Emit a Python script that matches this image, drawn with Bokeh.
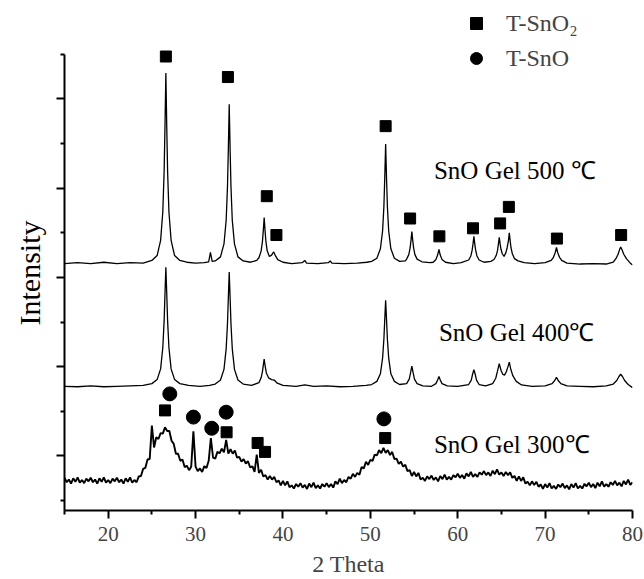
from bokeh.plotting import figure
from bokeh.models import Range1d, FixedTicker, Legend, LegendItem, ColumnDataSource, Title
from bokeh.core.properties import value
from bokeh.embed import file_html
from bokeh.resources import INLINE

FONT = "Liberation Serif"

# ---- data (2 Theta, intensity in arbitrary units, traces offset) ----
T500_X = [15.0, 16.5, 18.0, 19.5, 21.0, 22.5, 24.0, 25.0, 25.6, 26.0, 26.25, 26.4, 26.5, 26.6, 26.7, 26.8, 26.95,
          27.2, 27.6, 28.2, 29.0, 30.0, 31.0, 31.5, 31.7, 31.9, 32.25, 32.85, 33.25, 33.5, 33.65, 33.75, 33.85,
          33.95, 34.05, 34.2, 34.45, 34.85, 35.45, 36.3, 37.0, 37.25, 37.5, 37.65, 37.75, 37.85, 37.95, 38.05,
          38.2, 38.45, 38.7, 38.85, 38.95, 39.1, 39.4, 40.0, 41.0, 42.2, 42.5, 42.7, 44.0, 45.2, 45.4, 45.6,
          47.0, 48.5, 49.6, 50.15, 50.75, 51.15, 51.4, 51.55, 51.65, 51.75, 51.85, 51.95, 52.1, 52.35, 52.75,
          53.35, 54.0, 54.15, 54.4, 54.55, 54.65, 54.75, 54.85, 54.95, 55.1, 55.35, 55.9, 56.8, 57.2, 57.5,
          57.7, 57.85, 58.0, 58.2, 58.6, 59.5, 60.4, 61.25, 61.5, 61.65, 61.75, 61.85, 61.95, 62.05, 62.2,
          62.45, 63.0, 63.8, 64.15, 64.4, 64.55, 64.65, 64.75, 64.85, 64.95, 65.1, 65.3, 65.5, 65.65, 65.8,
          65.9, 66.0, 66.1, 66.25, 66.5, 66.9, 67.6, 68.8, 70.0, 70.7, 70.95, 71.15, 71.3, 71.45, 71.65, 71.9,
          72.5, 74.0, 75.5, 77.0, 77.8, 78.1, 78.35, 78.55, 78.65, 78.8, 79.0, 79.3, 79.7, 80.0]
T500_Y = [5.31, 5.33, 5.31, 5.34, 5.31, 5.33, 5.32, 5.38, 5.49, 5.83, 6.47, 7.36, 8.39, 9.58, 8.39, 7.36, 6.47,
          5.83, 5.49, 5.38, 5.34, 5.32, 5.33, 5.35, 5.56, 5.36, 5.37, 5.46, 5.75, 6.28, 7.03, 7.88, 8.88,
          7.88, 7.03, 6.28, 5.75, 5.46, 5.37, 5.34, 5.38, 5.44, 5.59, 5.80, 6.05, 6.34, 6.05, 5.80,
          5.59, 5.47, 5.50, 5.55, 5.57, 5.50, 5.40, 5.34, 5.31, 5.33, 5.38, 5.32, 5.31, 5.33, 5.37, 5.32,
          5.31, 5.32, 5.34, 5.36, 5.43, 5.64, 6.04, 6.59, 7.24, 7.99, 7.24, 6.59, 6.04, 5.64, 5.43,
          5.36, 5.37, 5.41, 5.51, 5.66, 5.83, 6.03, 5.83, 5.66, 5.51, 5.41, 5.35, 5.33, 5.34, 5.40,
          5.50, 5.63, 5.50, 5.40, 5.34, 5.31, 5.33, 5.39, 5.48, 5.61, 5.75, 5.92, 5.75, 5.61, 5.48,
          5.39, 5.34, 5.36, 5.40, 5.49, 5.60, 5.74, 5.90, 5.75, 5.63, 5.53, 5.47, 5.55, 5.66, 5.82,
          6.00, 5.82, 5.66, 5.53, 5.42, 5.37, 5.33, 5.31, 5.33, 5.38, 5.45, 5.55, 5.67, 5.55, 5.45, 5.38,
          5.32, 5.30, 5.31, 5.30, 5.34, 5.42, 5.52, 5.64, 5.68, 5.62, 5.52, 5.42, 5.33, 5.28]

T400_X = [15.0, 16.5, 18.0, 19.5, 21.0, 22.5, 24.0, 25.0, 25.6, 26.0, 26.25, 26.4, 26.5, 26.6, 26.7, 26.8, 26.95,
          27.2, 27.6, 28.2, 29.2, 30.5, 31.6, 32.25, 32.85, 33.25, 33.5, 33.65, 33.75, 33.85, 33.95, 34.05,
          34.2, 34.45, 34.85, 35.45, 36.4, 37.25, 37.5, 37.65, 37.75, 37.85, 37.95, 38.1, 38.35, 38.7, 39.0,
          39.35, 40.0, 41.5, 42.5, 43.5, 45.0, 46.5, 48.0, 49.5, 50.15, 50.75, 51.15, 51.4, 51.55, 51.65,
          51.75, 51.85, 51.95, 52.1, 52.35, 52.75, 53.35, 54.15, 54.45, 54.6, 54.75, 54.9, 55.05, 55.35,
          56.0, 57.0, 57.5, 57.7, 57.85, 58.0, 58.2, 58.8, 60.0, 61.25, 61.55, 61.7, 61.85, 62.0, 62.15,
          62.45, 63.2, 64.0, 64.35, 64.55, 64.75, 64.95, 65.15, 65.35, 65.55, 65.75, 65.9, 66.05, 66.3,
          66.7, 67.3, 68.5, 70.0, 70.8, 71.1, 71.3, 71.5, 71.8, 72.5, 74.0, 75.5, 77.0, 77.8, 78.2, 78.45,
          78.65, 78.85, 79.1, 79.5, 80.0]
T400_Y = [2.56, 2.55, 2.57, 2.55, 2.56, 2.57, 2.58, 2.62, 2.71, 2.95, 3.43, 4.02, 4.64, 5.23, 4.64, 4.02, 3.43,
          2.95, 2.71, 2.62, 2.58, 2.56, 2.58, 2.61, 2.70, 2.94, 3.40, 3.96, 4.55, 5.12, 4.55, 3.96,
          3.40, 2.94, 2.70, 2.61, 2.58, 2.64, 2.75, 2.89, 3.03, 3.17, 3.03, 2.86, 2.75, 2.71, 2.70,
          2.63, 2.58, 2.56, 2.59, 2.56, 2.57, 2.55, 2.56, 2.58, 2.60, 2.67, 2.84, 3.19, 3.62, 4.06,
          4.49, 4.06, 3.62, 3.19, 2.84, 2.67, 2.60, 2.62, 2.72, 2.86, 3.01, 2.86, 2.72, 2.62,
          2.57, 2.56, 2.62, 2.70, 2.78, 2.70, 2.62, 2.57, 2.56, 2.60, 2.70, 2.83, 2.93, 2.83, 2.70,
          2.60, 2.57, 2.62, 2.74, 2.90, 3.07, 2.92, 2.83, 2.81, 2.88, 3.00, 3.10, 2.96, 2.80,
          2.67, 2.59, 2.56, 2.57, 2.62, 2.69, 2.76, 2.69, 2.62, 2.57, 2.56, 2.55, 2.57, 2.61, 2.69, 2.78,
          2.83, 2.78, 2.69, 2.60, 2.53]

T300_X = [15.0, 15.25, 15.5, 15.75, 16.0, 16.25, 16.5, 16.75, 17.0, 17.25, 17.5, 17.75, 18.0, 18.25, 18.5, 18.75,
          19.0, 19.25, 19.5, 19.75, 20.0, 20.25, 20.5, 20.75, 21.0, 21.25, 21.5, 21.75, 22.0, 22.25, 22.5, 22.75,
          23.0, 23.25, 23.5, 23.75, 24.0, 24.25, 24.5, 24.75, 25.0, 25.25, 25.5, 25.75, 26.0, 26.25, 26.5, 26.75,
          27.0, 27.25, 27.5, 27.75, 28.0, 28.25, 28.5, 28.75, 29.0, 29.25, 29.5, 29.75, 30.0, 30.25, 30.5, 30.75,
          31.0, 31.25, 31.5, 31.75, 32.0, 32.25, 32.5, 32.75, 33.0, 33.25, 33.5, 33.75, 34.0, 34.25, 34.5, 34.75,
          35.0, 35.25, 35.5, 35.75, 36.0, 36.25, 36.5, 36.75, 37.0, 37.25, 37.5, 37.75, 38.0, 38.25, 38.5, 38.75,
          39.0, 39.25, 39.5, 39.75, 40.0, 40.25, 40.5, 40.75, 41.0, 41.25, 41.5, 41.75, 42.0, 42.25, 42.5, 42.75,
          43.0, 43.25, 43.5, 43.75, 44.0, 44.25, 44.5, 44.75, 45.0, 45.25, 45.5, 45.75, 46.0, 46.25, 46.5, 46.75,
          47.0, 47.25, 47.5, 47.75, 48.0, 48.25, 48.5, 48.75, 49.0, 49.25, 49.5, 49.75, 50.0, 50.25, 50.5, 50.75,
          51.0, 51.25, 51.5, 51.75, 52.0, 52.25, 52.5, 52.75, 53.0, 53.25, 53.5, 53.75, 54.0, 54.25, 54.5, 54.75,
          55.0, 55.25, 55.5, 55.75, 56.0, 56.25, 56.5, 56.75, 57.0, 57.25, 57.5, 57.75, 58.0, 58.25, 58.5, 58.75,
          59.0, 59.25, 59.5, 59.75, 60.0, 60.25, 60.5, 60.75, 61.0, 61.25, 61.5, 61.75, 62.0, 62.25, 62.5, 62.75,
          63.0, 63.25, 63.5, 63.75, 64.0, 64.25, 64.5, 64.75, 65.0, 65.25, 65.5, 65.75, 66.0, 66.25, 66.5, 66.75,
          67.0, 67.25, 67.5, 67.75, 68.0, 68.25, 68.5, 68.75, 69.0, 69.25, 69.5, 69.75, 70.0, 70.25, 70.5, 70.75,
          71.0, 71.25, 71.5, 71.75, 72.0, 72.25, 72.5, 72.75, 73.0, 73.25, 73.5, 73.75, 74.0, 74.25, 74.5, 74.75,
          75.0, 75.25, 75.5, 75.75, 76.0, 76.25, 76.5, 76.75, 77.0, 77.25, 77.5, 77.75, 78.0, 78.25, 78.5, 78.75,
          79.0, 79.25, 79.5, 79.75, 80.0]
T300_Y = [0.51, 0.41, 0.47, 0.38, 0.50, 0.42, 0.52, 0.40, 0.46, 0.39, 0.49, 0.43, 0.51, 0.41, 0.47, 0.38,
          0.50, 0.42, 0.52, 0.40, 0.46, 0.39, 0.49, 0.43, 0.51, 0.41, 0.47, 0.38, 0.50, 0.42, 0.52, 0.40,
          0.46, 0.41, 0.54, 0.55, 0.71, 0.73, 0.92, 0.93, 1.68, 1.19, 1.42, 1.38, 1.51, 1.50, 1.64, 1.56,
          1.56, 1.34, 1.27, 1.05, 1.05, 0.89, 0.92, 0.75, 0.78, 0.68, 0.76, 1.55, 0.76, 0.66, 0.72, 0.64,
          0.77, 0.73, 0.89, 1.40, 0.96, 0.94, 1.09, 1.06, 1.16, 1.08, 1.36, 1.05, 1.15, 1.05, 1.12, 0.96,
          0.98, 0.87, 0.93, 0.83, 0.88, 0.74, 0.77, 0.64, 1.03, 0.62, 0.69, 0.54, 0.57, 0.47, 0.55, 0.47,
          0.53, 0.41, 0.45, 0.34, 0.44, 0.34, 0.43, 0.30, 0.34, 0.27, 0.37, 0.31, 0.39, 0.29, 0.35, 0.26,
          0.38, 0.30, 0.40, 0.28, 0.34, 0.27, 0.37, 0.31, 0.39, 0.30, 0.37, 0.29, 0.43, 0.37, 0.49, 0.39,
          0.46, 0.41, 0.53, 0.49, 0.60, 0.53, 0.62, 0.58, 0.75, 0.72, 0.87, 0.80, 0.91, 0.89, 1.03, 1.01,
          1.13, 1.06, 1.18, 1.07, 1.13, 1.02, 1.09, 0.93, 0.94, 0.82, 0.87, 0.76, 0.80, 0.66, 0.68, 0.55,
          0.64, 0.54, 0.62, 0.47, 0.51, 0.44, 0.54, 0.48, 0.56, 0.46, 0.52, 0.43, 0.55, 0.48, 0.58, 0.47,
          0.53, 0.47, 0.57, 0.52, 0.60, 0.51, 0.57, 0.49, 0.61, 0.54, 0.64, 0.53, 0.59, 0.53, 0.63, 0.58,
          0.66, 0.57, 0.63, 0.55, 0.67, 0.59, 0.70, 0.58, 0.63, 0.55, 0.64, 0.57, 0.63, 0.51, 0.55, 0.44,
          0.54, 0.44, 0.52, 0.38, 0.42, 0.34, 0.43, 0.35, 0.42, 0.31, 0.36, 0.26, 0.37, 0.29, 0.39, 0.27,
          0.33, 0.26, 0.36, 0.30, 0.38, 0.28, 0.34, 0.25, 0.37, 0.29, 0.39, 0.27, 0.33, 0.27, 0.37, 0.32,
          0.40, 0.30, 0.37, 0.28, 0.40, 0.32, 0.43, 0.31, 0.37, 0.31, 0.41, 0.35, 0.44, 0.34, 0.40, 0.32,
          0.44, 0.36, 0.47, 0.35, 0.41]

# phase markers
SNO2_X = [26.6, 33.7, 38.15, 39.25, 51.75, 54.55, 57.9, 61.75, 64.85, 65.85, 71.35, 78.7,
          26.5, 33.55, 37.1, 37.95, 51.7]
SNO2_Y = [9.95, 9.49, 6.82, 5.95, 8.39, 6.32, 5.92, 6.10, 6.21, 6.58, 5.87, 5.95,
          2.02, 1.53, 1.29, 1.09, 1.40]
SNO_X = [27.05, 29.75, 31.85, 33.5, 51.55]
SNO_Y = [2.39, 1.87, 1.62, 1.98, 1.83]

LABELS = ["SnO Gel 500 \u2103", "SnO Gel 400\u2103", "SnO Gel 300\u2103"]
LABEL_X = [57.28, 57.85, 57.28]
LABEL_Y = [7.39, 3.77, 1.25]

X_TICKS = [20, 30, 40, 50, 60, 70, 80]
X_MINOR = [15, 25, 35, 45, 55, 65, 75]
Y_TICKS = [1, 3, 5, 7, 9]
Y_MINOR = [0, 2, 4, 6, 8, 10]
Y_MIN, Y_AXIS_TOP, Y_MAX = -0.223, 10.0, 11.205

p = figure(width=644, height=579, output_backend="svg", toolbar_location=None,
           x_range=Range1d(15, 80), y_range=Range1d(Y_MIN, Y_MAX),
           min_border_left=64, min_border_right=12, min_border_top=0, min_border_bottom=67)
p.outline_line_color = None
p.grid.visible = False
p.background_fill_color = "white"

for xs, ys, lw in [(T500_X, T500_Y, 1.3), (T400_X, T400_Y, 1.3), (T300_X, T300_Y, 1.9)]:
    p.line(xs, ys, line_color="black", line_width=lw)

sq = p.scatter(SNO2_X, SNO2_Y, marker="square", size=11, color="black")
ci = p.scatter(SNO_X, SNO_Y, marker="circle", size=14, color="black")

src = ColumnDataSource(dict(x=LABEL_X, y=LABEL_Y, t=LABELS))
p.text(x="x", y="y", text="t", source=src, text_font=value(FONT), text_font_size="25px",
       text_align="left", text_baseline="alphabetic", text_color="black")

legend = Legend(items=[LegendItem(label="T-SnO\u2082", renderers=[sq]),
                       LegendItem(label="T-SnO", renderers=[ci])],
                location=(397, 437), orientation="vertical", padding=0, margin=0, spacing=5,
                glyph_width=30, glyph_height=30, label_standoff=15,
                label_text_font=FONT, label_text_font_size="24px",
                border_line_color=None, background_fill_alpha=0)
p.add_layout(legend)

for ax in (p.xaxis, p.yaxis):
    ax.axis_line_width = 2
    ax.major_tick_line_width = 2
    ax.minor_tick_line_width = 2
    ax.major_tick_out = 8
    ax.major_tick_in = 0
    ax.minor_tick_out = 4
    ax.minor_tick_in = 0
    ax.axis_label_text_font = FONT
    ax.axis_label_text_font_style = "normal"
    ax.major_label_text_font = FONT

p.xaxis.ticker = FixedTicker(ticks=X_TICKS, minor_ticks=X_MINOR)
p.xaxis.major_label_text_font_size = "21px"
p.xaxis.major_label_standoff = 8
p.xaxis.axis_label = "2 Theta"
p.xaxis.axis_label_text_font_size = "24px"
p.xaxis.axis_label_standoff = 7

p.yaxis.ticker = FixedTicker(ticks=Y_TICKS, minor_ticks=Y_MINOR)
p.yaxis.bounds = (Y_MIN, Y_AXIS_TOP)
p.yaxis.major_label_overrides = {t: "" for t in Y_TICKS}

ylab = Title(text="Intensity", align="left", offset=185, vertical_align="middle", standoff=20,
             text_font=FONT, text_font_size="30px", text_font_style="normal", text_color="black")
p.add_layout(ylab, "left")

open("out.html", "w").write(file_html(p, INLINE))
